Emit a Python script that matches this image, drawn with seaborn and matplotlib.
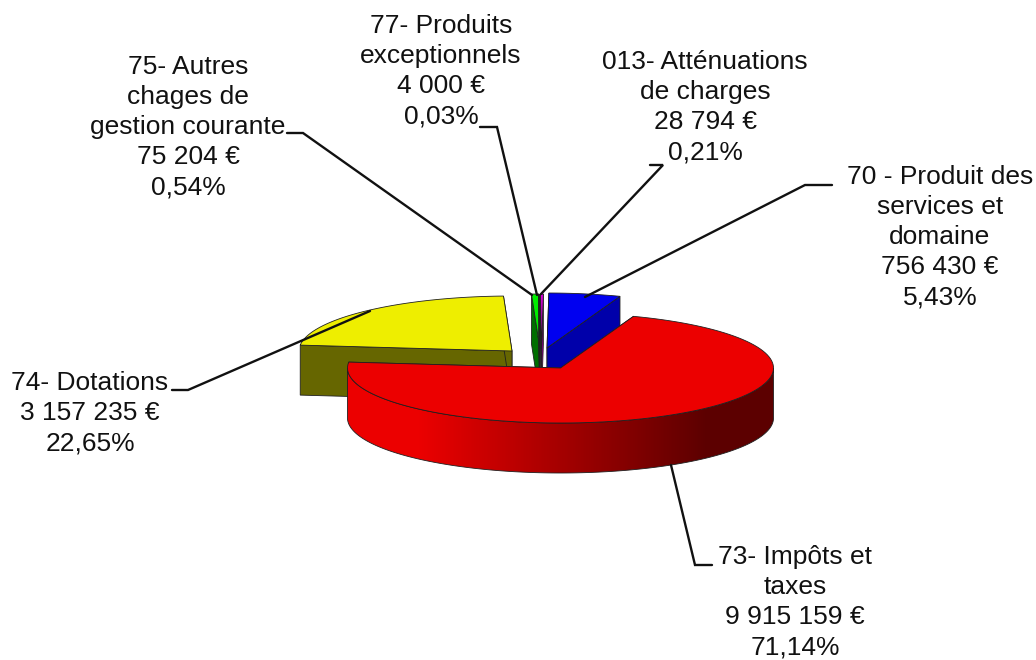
import numpy as np
import matplotlib
matplotlib.use('Agg')
import matplotlib.pyplot as plt
from matplotlib.patches import Polygon
import seaborn as sns

# recettes, dans l'ordre du camembert (sens horaire)
noms = ['70 - Produit des\nservices et\ndomaine', '73- Impôts et\ntaxes', '74- Dotations',
        '75- Autres\nchages de\ngestion courante', '77- Produits\nexceptionnels',
        '013- Atténuations\nde charges']
valeurs = [756430, 9915159, 3157235, 75204, 4000, 28794]
montants = ['756 430 €', '9 915 159 €', '3 157 235 €', '75 204 €', '4 000 €', '28 794 €']
pourcents = ['5,43%', '71,14%', '22,65%', '0,54%', '0,03%', '0,21%']

couleurs = ['#0000f0', '#ec0000', '#eeee00', '#00ee00', '#00c800', '#e000e0']
cotes = ['#0000aa', '#ec0000', '#666600', '#006e00', '#006e00', '#800080']
centres = [(547, 348), (560.5, 368), (512, 351), (540, 349), (540, 349), (541.5, 349)]

# position du texte et trait de rappel (pixels de l'image)
pos_texte = [(940, 237), (795, 602), (90, 413), (188, 127), (441, 71), (705, 107)]
traits = [[(832, 185), (805, 185), (585, 297)],
          [(712, 565), (695, 565), (671, 465)],
          [(172, 390), (188, 390), (370, 311)],
          [(287, 133), (303, 133), (532, 295)],
          [(480, 127), (497, 127), (537, 295)],
          [(650, 165), (663, 165), (541, 294)]]

A, B, H = 213, 55, 50
DEPART = 0.5
NOIR = '#202020'

sns.set_theme(style='white')
plt.rcParams['font.family'] = ['Liberation Sans', 'DejaVu Sans']

fig = plt.figure(figsize=(10.36, 6.6), dpi=100)
ax = fig.add_axes([0, 0, 1, 1])

degrade = sns.blend_palette(['#ec0000', '#5c0000'], as_cmap=True)


def arc(c, t1, t2, n=120):
    t = np.radians(np.linspace(t1, t2, n))
    return c[0] + A * np.sin(t), c[1] - B * np.cos(t)


def tranche(i, t1, t2, z):
    c = centres[i]
    # parois radiales
    x1, y1 = arc(c, t1, t1, 1)
    x2, y2 = arc(c, t2, t2, 1)
    for x, y in [(x1[0], y1[0]), (x2[0], y2[0])]:
        ax.fill([x, c[0], c[0], x], [y, c[1], c[1] + H, y + H], fc=cotes[i],
                ec=NOIR, lw=0.6, zorder=z)
    # paroi exterieure, seulement la partie vers l'avant
    d, f = max(t1, 90), min(t2, 270)
    if d < f:
        xa, ya = arc(c, d, f, 200)
        contour = np.c_[np.r_[xa, xa[::-1]], np.r_[ya, ya[::-1] + H]]
        poly = Polygon(contour, closed=True, fc='none', ec=NOIR, lw=0.6, zorder=z + 0.1)
        ax.add_patch(poly)
        # degrade horizontal : clair a gauche, sombre a droite
        g = np.clip((np.arange(300, 800) - 417) / (707 - 417), 0, 1)[None, :]
        im = ax.imshow(g, cmap=degrade, extent=[300, 800, 500, 300], aspect='auto', zorder=z)
        im.set_clip_path(poly)
    # face du dessus
    xa, ya = arc(c, t1, t2)
    ax.fill(np.r_[c[0], xa], np.r_[c[1], ya], fc=couleurs[i], ec=NOIR, lw=0.6, zorder=z + 0.5)


parts = np.array(valeurs) / sum(valeurs) * 360
bornes = DEPART + np.r_[0, np.cumsum(parts)]
ordre = {2: 2, 3: 3, 4: 4, 5: 5, 0: 6, 1: 7}
for i in range(len(valeurs)):
    tranche(i, bornes[i], bornes[i + 1], ordre[i])

for i, nom in enumerate(noms):
    ax.text(pos_texte[i][0], pos_texte[i][1], nom + '\n' + montants[i] + '\n' + pourcents[i],
            ha='center', va='center', fontsize=19, color='#111111', linespacing=1.32, zorder=12)
    xs, ys = zip(*traits[i])
    ax.plot(xs, ys, color='#111111', lw=1.7, zorder=11, solid_joinstyle='miter')

ax.set_xlim(0, 1036)
ax.set_ylim(660, 0)
ax.axis('off')

fig.savefig('out.png', dpi=100, facecolor='white')
